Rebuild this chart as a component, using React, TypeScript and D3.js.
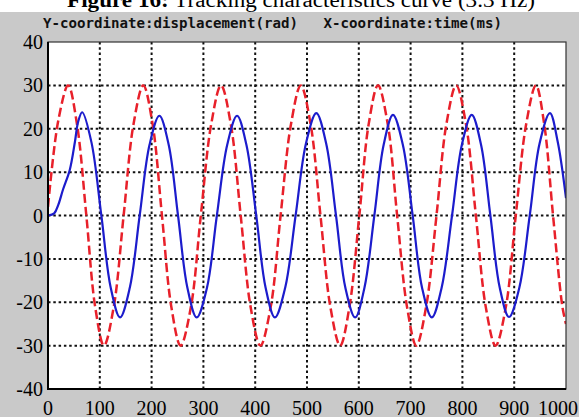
import React from "react";
import * as d3 from "d3";

const xTicks = [0, 100, 200, 300, 400, 500, 600, 700, 800, 900, 1000];
const yTicks = [-40, -30, -20, -10, 0, 10, 20, 30, 40];

const redTime = [0, 20, 39, 56, 74, 91, 108, 127, 146, 165, 184, 202, 220, 238, 256, 276, 295, 315, 334, 353, 372, 391, 410, 430, 449, 469, 488, 507, 526, 545, 564, 582, 601, 619, 637, 656, 674, 693, 711, 730, 750, 769, 788, 807, 826, 845, 864, 884, 903, 923, 942, 958, 975, 993, 1000];
const redValue = [2, 22, 30, 21, 0, -21, -30, -21, 0, 21, 30, 21, 0, -21, -30, -21, 0, 21, 30, 21, 0, -21, -30, -21, 0, 21, 30, 21, 0, -21, -30, -21, 0, 21, 30, 21, 0, -21, -30, -21, 0, 21, 30, 21, 0, -21, -30, -21, 0, 21, 30, 21, 0, -21, -25];

const blueTime = [0, 12, 20, 29, 42, 52, 58, 66, 84, 103, 121, 139, 158, 177, 196, 215, 233, 251, 269, 287, 307, 326, 346, 365, 383, 402, 420, 438, 458, 478, 498, 518, 537, 556, 574, 593, 611, 630, 648, 666, 685, 704, 722, 741, 760, 780, 799, 818, 836, 854, 872, 890, 910, 930, 949, 969, 984, 1000];
const blueValue = [0, 0.5, 2.5, 6, 10.5, 17, 21.5, 23.8, 16.8, 0, -16.6, -23.5, -16.6, 0, 16.3, 23, 16.3, 0, -16.6, -23.5, -16.6, 0, 16.3, 23, 16.3, 0, -16.6, -23.5, -16.6, 0, 16.6, 23.6, 16.6, 0, -16.6, -23.5, -16.6, 0, 16.3, 23.2, 16.3, 0, -16.6, -23.5, -16.6, 0, 16.3, 23.2, 16.3, 0, -16.6, -23.4, -16.6, 0, 16.6, 23.6, 17, 4];

const titleBold = "Figure 16:";
const titleRest = " Tracking characteristics curve (3.3 Hz)";
const header = "Y-coordinate:displacement(rad)   X-coordinate:time(ms)";

const W = 579;
const H = 417;
const L = 48, R = 566, T = 42, B = 389;

export default function App() {
  const x = d3.scaleLinear().domain([0, 1000]).range([L, R]);
  const y = d3.scaleLinear().domain([-40, 40]).range([B, T]);
  const line = d3
    .line<[number, number]>()
    .x((d) => x(d[0]))
    .y((d) => y(d[1]))
    .curve(d3.curveCatmullRom.alpha(0.5));
  const red = line(redTime.map((t, i) => [t, redValue[i]]) as [number, number][]) || "";
  const blue = line(blueTime.map((t, i) => [t, blueValue[i]]) as [number, number][]) || "";

  return (
    <svg
      width={W}
      height={H}
      viewBox={`0 0 ${W} ${H}`}
      style={{ position: "fixed", left: 0, top: 0, background: "#fff" }}
    >
      <defs>
        <clipPath id="plotclip">
          <rect x={L} y={T} width={R - L} height={B - T} />
        </clipPath>
      </defs>
      <rect x={0} y={0} width={W} height={H} fill="#fff" />
      <rect x={0} y={12} width={W} height={H - 12} fill="#c9c9c9" />
      <text
        x={67}
        y={7}
        fontFamily="'Liberation Serif', 'DejaVu Serif', serif"
        fontSize={20}
        fill="#000"
        textLength={468}
        lengthAdjust="spacingAndGlyphs"
      >
        <tspan fontWeight="bold">{titleBold}</tspan>
        <tspan>{titleRest}</tspan>
      </text>
      <text
        x={43}
        y={28}
        fontFamily="'DejaVu Sans Mono', 'Liberation Mono', monospace"
        fontWeight="bold"
        fontSize={13.5}
        fill="#111"
        textLength={459}
        lengthAdjust="spacingAndGlyphs"
        style={{ whiteSpace: "pre" }}
        xmlSpace="preserve"
      >
        {header}
      </text>
      <rect x={L} y={T} width={R - L} height={B - T} fill="#fff" />
      {xTicks.slice(1, -1).map((t) => (
        <line
          key={"gx" + t}
          x1={x(t)}
          x2={x(t)}
          y1={T}
          y2={B}
          stroke="#111"
          strokeWidth={2}
          strokeDasharray="2.5 2.8"
        />
      ))}
      {yTicks.slice(1, -1).map((t) => (
        <line
          key={"gy" + t}
          x1={L}
          x2={R}
          y1={y(t)}
          y2={y(t)}
          stroke="#111"
          strokeWidth={2}
          strokeDasharray="2.5 2.8"
        />
      ))}
      <g clipPath="url(#plotclip)">
        <path d={red} fill="none" stroke="#e8202a" strokeWidth={2.5} strokeDasharray="9 4" />
        <path d={blue} fill="none" stroke="#1c1ccc" strokeWidth={2.2} />
      </g>
      <rect x={L} y={T} width={R - L} height={B - T} fill="none" stroke="#333" strokeWidth={1.2} />
      <line x1={L} x2={L} y1={T} y2={B + 1} stroke="#000" strokeWidth={2} />
      <line x1={L - 1} x2={R} y1={B} y2={B} stroke="#000" strokeWidth={2} />
      {yTicks.map((t) => (
        <text
          key={"ty" + t}
          x={43}
          y={y(t)}
          dy="0.35em"
          textAnchor="end"
          fontFamily="'Liberation Serif', 'DejaVu Serif', serif"
          fontSize={20}
          fill="#000"
        >
          {t}
        </text>
      ))}
      {xTicks.map((t) => (
        <text
          key={"tx" + t}
          x={t === 1000 ? Math.min(x(t), W - 21) : x(t)}
          y={415}
          textAnchor="middle"
          fontFamily="'Liberation Serif', 'DejaVu Serif', serif"
          fontSize={20}
          fill="#000"
        >
          {t}
        </text>
      ))}
    </svg>
  );
}
